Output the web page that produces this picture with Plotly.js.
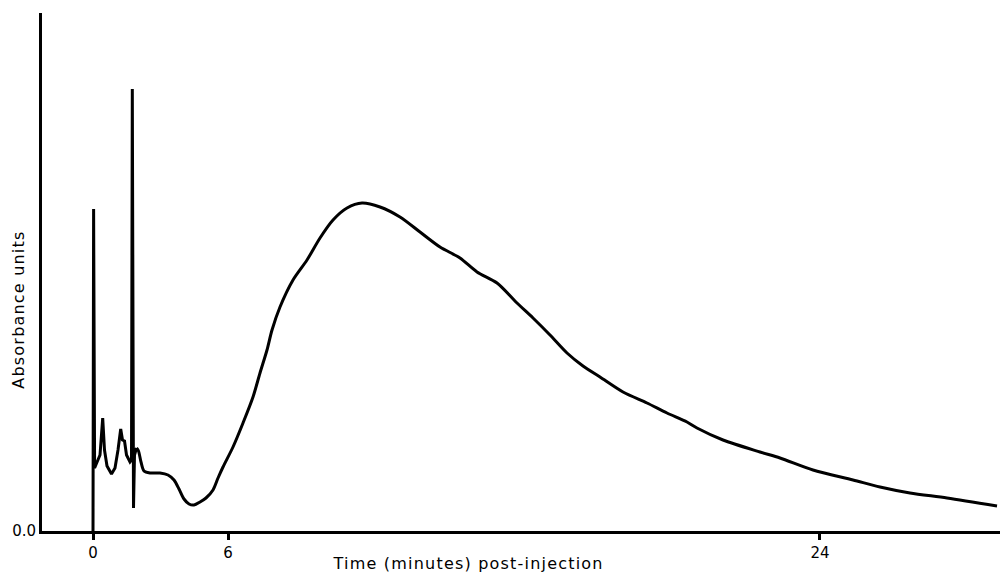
<!DOCTYPE html>
<html>
<head>
<meta charset="utf-8">
<script src="https://cdn.plot.ly/plotly-3.0.1.min.js"></script>
<style>
  html, body { margin: 0; padding: 0; background: #fff; }
  #chart { width: 1000px; height: 574px; }
  #chart .annotation-text { letter-spacing: 1.2px; }
</style>
</head>
<body>
<div id="chart"></div>
<script>
// Recorder chart position (x) and absorbance (arbitrary units, y)
const chartPos = [0.000, 0.027, 0.071, 0.178, 0.311, 0.431, 0.511, 0.622, 0.822, 0.978,
  1.111, 1.231, 1.311, 1.400, 1.489, 1.644, 1.711, 1.747, 1.800, 1.844,
  1.933, 2.022, 2.133, 2.267, 2.533, 2.978, 3.333, 3.600, 3.822, 4.044,
  4.267, 4.489, 4.756, 5.022, 5.333, 5.556, 5.778, 6.222, 6.667, 7.111,
  7.422, 7.733, 7.956, 8.311, 8.889, 9.511, 10.089, 10.667, 11.289, 11.956,
  12.756, 13.644, 14.533, 15.422, 16.311, 17.067, 17.956, 18.844, 19.556, 20.311,
  21.067, 21.778, 22.533, 23.556, 24.622, 25.511, 26.400, 26.844, 28.000, 29.644,
  30.533, 32.000, 33.778, 34.978, 36.311, 37.956, 40.178];
const absorbance = [0.000, 0.644, 0.126, 0.138, 0.152, 0.226, 0.162, 0.130, 0.114, 0.126,
  0.162, 0.204, 0.182, 0.180, 0.152, 0.138, 0.142, 0.884, 0.046, 0.152,
  0.166, 0.160, 0.138, 0.120, 0.116, 0.116, 0.112, 0.102, 0.084, 0.064,
  0.054, 0.052, 0.058, 0.066, 0.082, 0.106, 0.128, 0.168, 0.216, 0.268,
  0.316, 0.362, 0.402, 0.448, 0.502, 0.542, 0.586, 0.622, 0.646, 0.656,
  0.648, 0.628, 0.598, 0.568, 0.546, 0.518, 0.496, 0.456, 0.426, 0.392,
  0.356, 0.330, 0.308, 0.278, 0.256, 0.236, 0.218, 0.206, 0.182, 0.158,
  0.146, 0.122, 0.102, 0.088, 0.076, 0.066, 0.050];

// Time ticks (minutes) and where they sit on the recorder chart
const timeTickPos = [0, 6, 32.31];
const timeTickText = ['0', '6', '24'];
const yTickVals = [0];
const yTickText = ['0.0'];

// index where the sharp injection spikes end and the smooth peak begins
const splitIdx = 20;

const lineStyle = { color: '#000', width: 3 };
const spikes = {
  x: chartPos.slice(0, splitIdx + 1),
  y: absorbance.slice(0, splitIdx + 1),
  type: 'scatter', mode: 'lines',
  line: Object.assign({ shape: 'linear' }, lineStyle),
  hoverinfo: 'skip'
};
const peak = {
  x: chartPos.slice(splitIdx),
  y: absorbance.slice(splitIdx),
  type: 'scatter', mode: 'lines',
  line: Object.assign({ shape: 'spline', smoothing: 0.8 }, lineStyle),
  hoverinfo: 'skip'
};

const tickFont = { family: 'DejaVu Sans, sans-serif', size: 15, color: '#000' };
const titleFont = { family: 'DejaVu Sans, sans-serif', size: 16, color: '#000' };

const layout = {
  width: 1000,
  height: 574,
  margin: { l: 42, r: 0, t: 13, b: 43 },
  paper_bgcolor: '#fff',
  plot_bgcolor: '#fff',
  showlegend: false,
  xaxis: {
    range: [-2.267, 40.311],
    showline: true, linecolor: '#000', linewidth: 3,
    showgrid: false, zeroline: false,
    tickmode: 'array', tickvals: timeTickPos, ticktext: timeTickText,
    ticks: 'outside', ticklen: 6, tickwidth: 3, tickcolor: '#000',
    tickfont: tickFont
  },
  yaxis: {
    range: [0, 1.036],
    showline: true, linecolor: '#000', linewidth: 3,
    showgrid: false, zeroline: false,
    tickmode: 'array', tickvals: yTickVals, ticktext: yTickText,
    ticks: '',
    tickfont: tickFont
  },
  annotations: [
    {
      text: 'Time (minutes) post-injection',
      xref: 'paper', yref: 'paper',
      x: 0.4447, y: -0.0618,
      xanchor: 'center', yanchor: 'middle',
      showarrow: false,
      font: titleFont
    },
    {
      text: 'Absorbance units',
      xref: 'paper', yref: 'paper',
      x: -0.025, y: 0.4266,
      xanchor: 'center', yanchor: 'middle',
      textangle: -90,
      showarrow: false,
      font: titleFont
    }
  ]
};

Plotly.newPlot('chart', [spikes, peak], layout, { staticPlot: true, displayModeBar: false });
</script>
</body>
</html>
